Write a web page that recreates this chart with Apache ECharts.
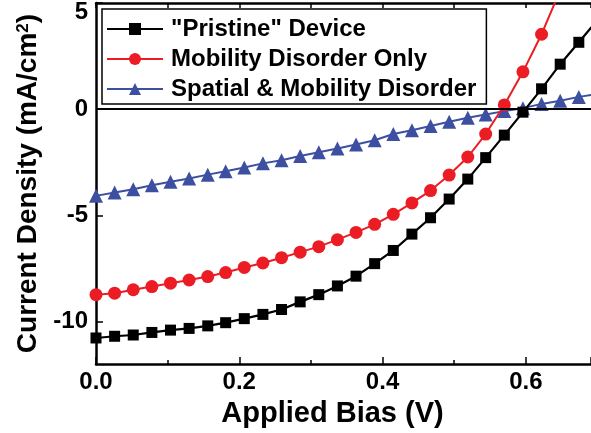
<!DOCTYPE html>
<html>
<head>
<meta charset="utf-8">
<script src="https://cdn.jsdelivr.net/npm/echarts@6/dist/echarts.min.js"></script>
<style>html,body{margin:0;padding:0;background:#fff;}#c{width:591px;height:433px;}</style>
</head>
<body>
<div id="c"></div>
<script>
const biasV = [0, 0.026, 0.052, 0.078, 0.104, 0.130, 0.156, 0.181, 0.207, 0.233, 0.259, 0.285, 0.311, 0.337, 0.363, 0.389, 0.415, 0.441, 0.467, 0.493, 0.519, 0.544, 0.570, 0.596, 0.622, 0.648, 0.674, 0.700];
const pristine = [-10.77, -10.69, -10.63, -10.51, -10.40, -10.32, -10.20, -10.05, -9.86, -9.66, -9.43, -9.07, -8.73, -8.32, -7.86, -7.27, -6.65, -5.88, -5.11, -4.23, -3.29, -2.28, -1.22, -0.14, 0.96, 2.12, 3.15, 4.2];
const mobility = [-8.73, -8.66, -8.50, -8.35, -8.19, -8.04, -7.88, -7.69, -7.45, -7.24, -6.99, -6.73, -6.47, -6.14, -5.80, -5.42, -4.95, -4.41, -3.83, -3.10, -2.25, -1.17, 0.2, 1.76, 3.53, 5.6];
const spatial = [-4.08, -3.92, -3.77, -3.58, -3.42, -3.26, -3.08, -2.92, -2.74, -2.55, -2.40, -2.20, -2.03, -1.85, -1.66, -1.46, -1.17, -0.99, -0.79, -0.59, -0.40, -0.25, -0.09, 0.05, 0.25, 0.40, 0.58, 0.72];
const seriesNames = ['"Pristine" Device', 'Mobility Disorder Only', 'Spatial & Mobility Disorder'];
const yTicks = [-10, -5, 0, 5];

const FONT = 'Liberation Sans';
const pair = (ys) => ys.map((y, i) => [biasV[i], y]);

const chart = echarts.init(document.getElementById('c'), null, {renderer: 'canvas'});
chart.setOption({
  animation: false,
  backgroundColor: '#fff',
  grid: {left: 96, top: 1, right: 0, bottom: 65, containLabel: false},
  legend: {
    orient: 'vertical',
    left: 102, top: 9,
    padding: [8, 10, 3, 4],
    itemWidth: 56, itemHeight: 15, itemGap: 6,
    borderColor: '#000', borderWidth: 1.5,
    backgroundColor: '#fff',
    textStyle: {fontFamily: FONT, fontWeight: 'bold', fontSize: 24, color: '#000', lineHeight: 23, padding: [0, 0, 0, 3]},
    data: seriesNames
  },
  xAxis: [{
    type: 'value', min: 0, max: 0.691, interval: 0.2, position: 'bottom',
    axisLine: {show: true, onZero: false, lineStyle: {color: '#000', width: 2.5}},
    axisTick: {show: true, inside: true, length: 7, lineStyle: {color: '#000', width: 1.5}},
    minorTick: {show: true, splitNumber: 2, length: 4, lineStyle: {color: '#000', width: 1.5}},
    axisLabel: {showMaxLabel: false, margin: 6, color: '#000', fontFamily: FONT, fontWeight: 'bold', fontSize: 24, formatter: v => v.toFixed(1)},
    splitLine: {show: false},
    name: 'Applied Bias (V)', nameLocation: 'middle', nameGap: 26,
    nameTextStyle: {color: '#000', fontFamily: FONT, fontWeight: 'bold', fontSize: 29, padding: [0, 22, 0, 0]}
  }, {
    type: 'value', min: 0, max: 0.691, interval: 0.1, position: 'top',
    axisLine: {show: true, onZero: false, lineStyle: {color: '#000', width: 2.5}},
    axisTick: {show: true, inside: true, length: 5, lineStyle: {color: '#000', width: 1.5}},
    axisLabel: {show: false},
    splitLine: {show: false}
  }],
  yAxis: {
    type: 'value', min: -12, max: 5,
    axisLine: {show: true, onZero: false, lineStyle: {color: '#000', width: 2.5}},
    axisTick: {show: true, inside: true, length: 7, customValues: yTicks, lineStyle: {color: '#000', width: 1.5}},
    axisLabel: {
      customValues: yTicks, margin: 8, color: '#000', fontFamily: FONT, fontWeight: 'bold', fontSize: 24,
      formatter: v => v === 5 ? '{t|5}' : String(v),
      rich: {t: {fontFamily: FONT, fontWeight: 'bold', fontSize: 24, color: '#000', padding: [18, 0, 0, 0]}}
    },
    splitLine: {show: false},
    name: '{a|Current Density (mA/cm}{s|2}{a|)}', nameLocation: 'middle', nameGap: 50, nameRotate: 90,
    nameTextStyle: {
      rich: {
        a: {fontFamily: FONT, fontWeight: 'bold', fontSize: 28, color: '#000'},
        s: {fontFamily: FONT, fontWeight: 'bold', fontSize: 17, color: '#000', verticalAlign: 'top', padding: [0, 0, 11, 0]}
      }
    }
  },
  series: [
    {
      name: seriesNames[0], type: 'line', data: pair(pristine), clip: true,
      symbol: 'rect', symbolSize: 11, color: '#000',
      lineStyle: {color: '#000', width: 2.2}, itemStyle: {color: '#000'},
      markLine: {silent: true, symbol: 'none', label: {show: false},
        lineStyle: {color: '#000', width: 2, type: 'solid'}, data: [{yAxis: 0}]},
      z: 3
    },
    {
      name: seriesNames[1], type: 'line', data: pair(mobility), clip: true,
      symbol: 'circle', symbolSize: 13, color: '#EC1C24',
      lineStyle: {color: '#EC1C24', width: 2}, itemStyle: {color: '#EC1C24'},
      z: 2
    },
    {
      name: seriesNames[2], type: 'line', data: pair(spatial), clip: true,
      symbol: 'triangle', symbolSize: 14, color: '#3C4FA1',
      lineStyle: {color: '#3C4FA1', width: 2}, itemStyle: {color: '#3C4FA1'},
      z: 1
    }
  ]
});
</script>
</body>
</html>
